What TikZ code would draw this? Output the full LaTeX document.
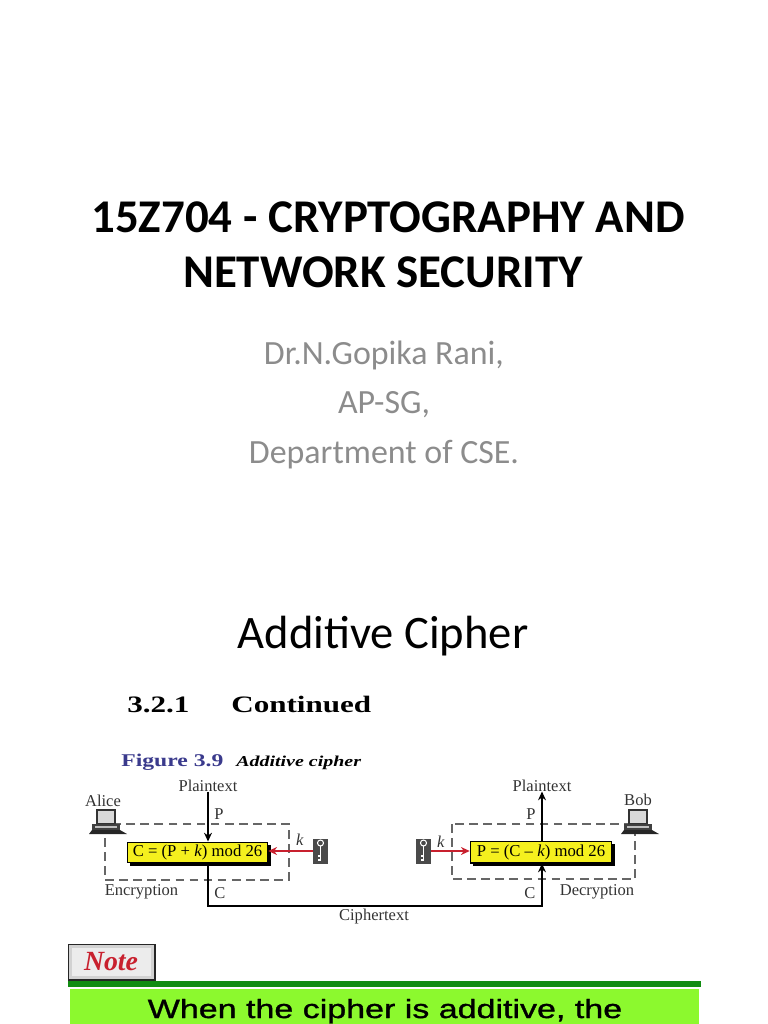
\documentclass[tikz,border=0pt]{standalone}
\usepackage{fontspec}
\setmainfont{Carlito}
\newfontfamily\figfont{Liberation Serif}
\newfontfamily\widefont[FakeStretch=1.32]{Liberation Serif}
\newfontfamily\notefont[FakeStretch=1.29,FakeBold=1.2]{Liberation Sans}
\usetikzlibrary{positioning,arrows.meta,calc}
\definecolor{subgray}{HTML}{8C8C8C}
\definecolor{figblue}{HTML}{3A3A8C}
\definecolor{boxyellow}{HTML}{F5F01E}
\definecolor{keyred}{HTML}{C8202E}
\definecolor{bardark}{HTML}{128C12}
\definecolor{barlight}{HTML}{8CF92E}
\definecolor{keygray}{HTML}{4A4A4A}
\newcommand{\Workstation}[2]{%
  \fill[gray!30, draw=black!80, line width=0.7pt] (#1-9,#2-14) rectangle (#1+9,#2);
  \fill[black!75] (#1-14,#2) rectangle (#1+14,#2+6);
  \fill[gray!50] (#1-11,#2+1.5) rectangle (#1+11,#2+3.5);
  \fill[black!85] (#1-17,#2+10) -- (#1-14,#2+6) -- (#1+14,#2+6) -- (#1+21,#2+10) -- cycle;
}
\newcommand{\KeyIcon}[2]{%
  \fill[keygray] (#1-7.5,#2-12.5) rectangle (#1+7.5,#2+12.5);
  \draw[white, line width=0.6pt] (#1,#2-8) circle (3);
  \draw[white, line width=0.8pt] (#1,#2-5) -- (#1,#2+9) -- (#1-3,#2+9) (#1,#2+5) -- (#1-3,#2+5);
}
\begin{document}
\begin{tikzpicture}[x=0.2mm, y=-0.2mm, >={Stealth[length=5pt, width=4.5pt]},
  titletext/.style={font=\fontsize{26.7}{26.7}\selectfont\bfseries, anchor=base, text=black},
  subtext/.style={font=\fontsize{19.3}{19.3}\selectfont, anchor=base, text=subgray},
  figlabel/.style={font=\figfont\fontsize{9.4}{9.4}\selectfont, anchor=base, inner sep=0pt, text=black!80},
  cipherbox/.style={draw=black, fill=boxyellow, line width=0.6pt, inner sep=0pt,
    font=\figfont\fontsize{9.5}{9.5}\selectfont},
  zone/.style={gray!80!black, line width=0.6pt, dash pattern=on 5pt off 3pt},
  flow/.style={->, black, line width=0.7pt},
  keyflow/.style={->, keyred, line width=0.8pt}]
  \useasboundingbox (0,0) rectangle (768,1024);

  \node[titletext] (titleA) at (388,232) {15Z704 - CRYPTOGRAPHY AND};
  \node[titletext] (titleB) at (383,287) {NETWORK SECURITY};
  \node[subtext] (author) at (384,364) {Dr.N.Gopika Rani,};
  \node[subtext] (grade) at (384,413) {AP-SG,};
  \node[subtext] (dept) at (384,463) {Department of CSE.};
  \node[font=\fontsize{26.5}{26.5}\selectfont, anchor=base] (slide) at (383,648) {Additive Cipher};

  \node[font=\widefont\fontsize{13.4}{13.4}\selectfont\bfseries, anchor=base west, inner sep=0pt] (secnum) at (127,712) {3.2.1};
  \node[font=\widefont\fontsize{13.4}{13.4}\selectfont\bfseries, anchor=base west, inner sep=0pt] (sectitle) at (231,712) {Continued};
  \node[font=\widefont\fontsize{10.2}{10.2}\selectfont\bfseries, text=figblue, anchor=base west, inner sep=0pt] (fignum) at (121,766) {Figure 3.9};
  \node[font=\widefont\fontsize{8.6}{8.6}\selectfont\bfseries\itshape, anchor=base west, inner sep=0pt] (figname) at (236,766) {Additive cipher};

  % dashed zones first, the boxes sit on them
  \draw[zone] (105,824) rectangle (289,880);
  \draw[zone] (452,824) rectangle (635,879);
  \Workstation{106}{824}
  \Workstation{638}{824}

  \fill[black] (130,845) rectangle (271,866);
  \fill[black] (473,844) rectangle (615,866);
  \node[cipherbox, minimum width=79.9pt, minimum height=11.9pt] (encbox) at (197.5,852.5) {C = (P + \textit{k}) mod 26};
  \node[cipherbox, minimum width=80.5pt, minimum height=12.5pt] (decbox) at (541,852) {P = (C – \textit{k}) mod 26};

  \node[figlabel] (plainL) at (208,791) {Plaintext};
  \node[figlabel] (plainR) at (542,791) {Plaintext};
  \node[figlabel] (alice) at (103,806) {Alice};
  \node[figlabel] (bob) at (638,805) {Bob};
  \node[figlabel] (pL) at (219,819) {P};
  \node[figlabel] (pR) at (531,819) {P};
  \node[figlabel] (cL) at (220,898) {C};
  \node[figlabel] (cR) at (530,898) {C};
  \node[figlabel] (kL) at (300,845) {\textit{k}};
  \node[figlabel] (kR) at (441,847) {\textit{k}};
  \node[figlabel] (encl) at (141.5,895) {Encryption};
  \node[figlabel] (decl) at (597,895) {Decryption};
  \node[figlabel] (ctext) at (374,920) {Ciphertext};

  \coordinate (keyL) at (320.5,851);
  \coordinate (keyR) at (423.5,851);
  \KeyIcon{320.5}{851}
  \KeyIcon{423.5}{851}
  \coordinate (cline) at (374,906);

  \draw[flow] (plainL.south) -- (plainL.south |- encbox.north);
  \draw[flow] (plainR.south |- decbox.north) -- (plainR.south);
  \draw[flow] (plainL.south |- encbox.south) |- (cline) -| (plainR.south |- decbox.south);
  \draw[keyflow] ($(keyL)+(-7.5,0)$) -- (encbox.east |- keyL);
  \draw[keyflow] ($(keyR)+(7.5,0)$) -- (decbox.west |- keyR);

  % note strip at the foot of the page
  \fill[black!85] (68,944) rectangle (156,981);
  \fill[gray!35] (69,945) rectangle (154,979);
  \fill[gray!15] (72,948) rectangle (151,976);
  \node[font=\figfont\fontsize{15.8}{15.8}\selectfont\bfseries\itshape, text=keyred] (note) at (111,962) {Note};
  \fill[bardark] (68,981) rectangle (701,987);
  \fill[barlight] (70,989) rectangle (699,1024);
  \node[font=\notefont\fontsize{15}{15}\selectfont, anchor=base, inner sep=0pt] (notetext) at (385,1018) {When the cipher is additive, the};
\end{tikzpicture}
\end{document}
